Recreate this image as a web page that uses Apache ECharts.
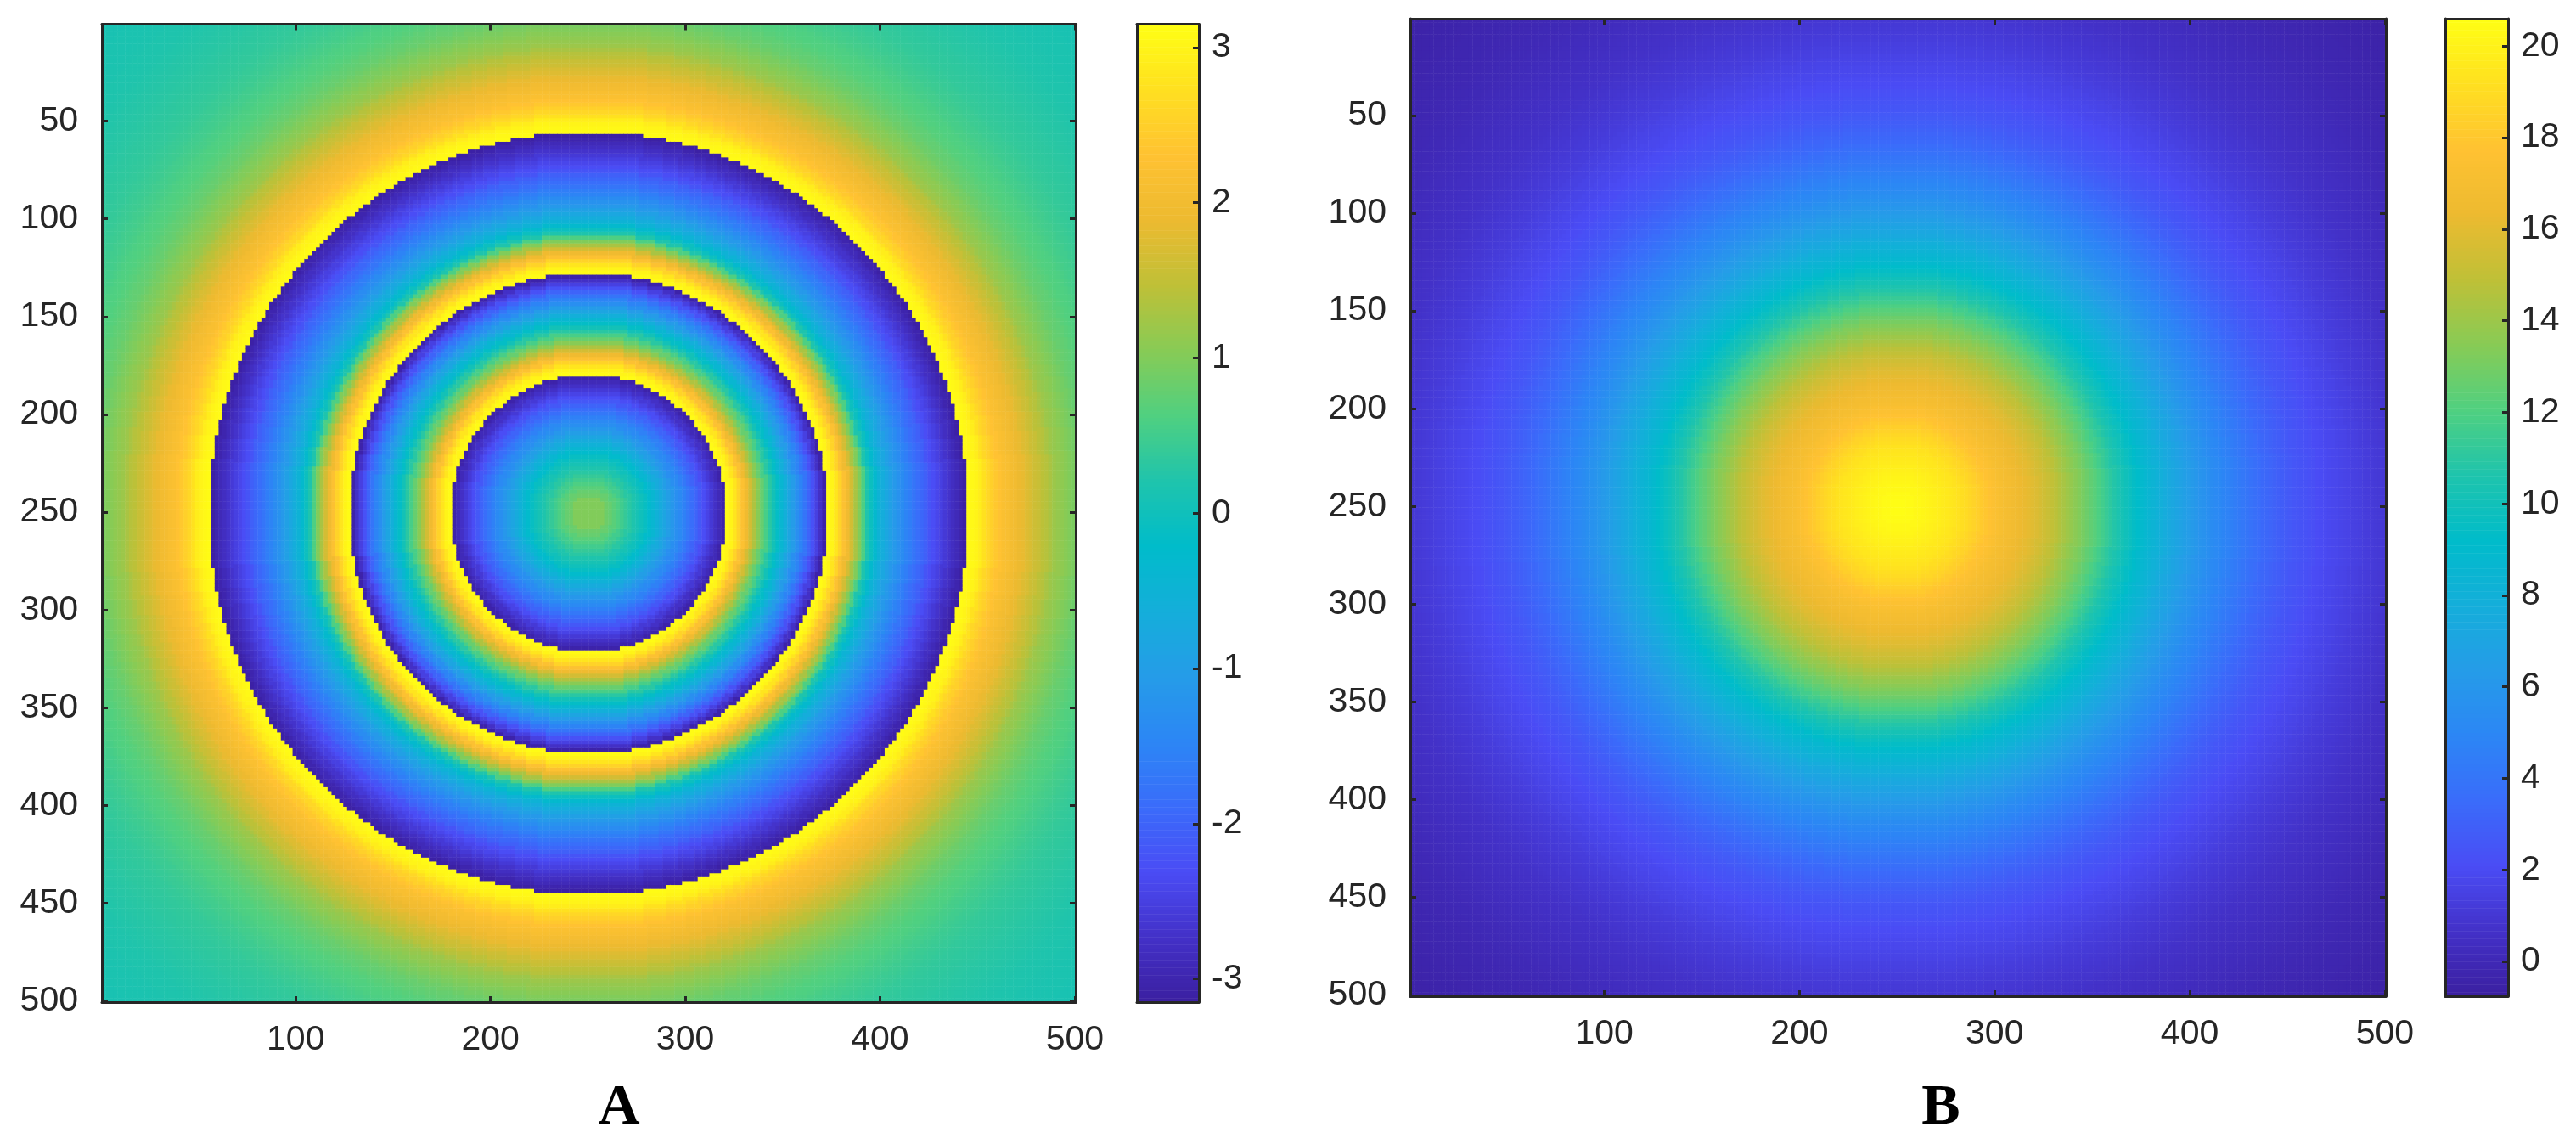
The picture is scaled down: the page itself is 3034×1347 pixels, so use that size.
<!DOCTYPE html>
<html>
<head>
<meta charset="utf-8">
<title>A B</title>
<script src="https://cdn.jsdelivr.net/npm/echarts@6/dist/echarts.min.js"></script>
<style>
html,body{margin:0;padding:0;background:#fff;}
#main{width:3034px;height:1347px;}
</style>
</head>
<body>
<div id="main"></div>
<script>
//************************* data ****************************************************//
// Both images are round, so each is kept as one radial profile: value read every
// 2 px of radius from the centre (0,2,4...354). The speckle of the original is not kept.
var phaseProfile = [
    1,1,1,1,1,0.85,0.8,0.7,0.6,0.5,
    0.4,0.3,0.2,0.1,0,-0.1,-0.25,-0.4,-0.55,-0.7,
    -0.85,-1,-1.15,-1.3,-1.4,-1.55,-1.7,-1.85,-2,-2.15,
    -2.3,-2.45,-2.6,-2.75,-2.9,-3.05,3.1,3,2.8,2.55,
    2.25,1.95,1.65,1.35,1.05,0.8,0.55,0.3,0.05,-0.15,
    -0.4,-0.6,-0.85,-1.05,-1.3,-1.5,-1.75,-2,-2.25,-2.5,
    -2.75,-3.05,3.1,3,2.8,2.55,2.25,1.95,1.65,1.3,
    1,0.6,0.2,-0.05,-0.3,-0.5,-0.65,-0.8,-0.95,-1.1,
    -1.25,-1.35,-1.5,-1.6,-1.75,-1.85,-1.95,-2.05,-2.2,-2.3,
    -2.4,-2.5,-2.6,-2.7,-2.8,-2.9,-3,-3.1,3.1,3.05,
    3,2.9,2.75,2.6,2.5,2.4,2.3,2.2,2.15,2.05,
    2,1.9,1.85,1.75,1.7,1.6,1.55,1.45,1.4,1.3,
    1.2,1.15,1.1,1.05,1,0.95,0.9,0.85,0.8,0.77,
    0.74,0.7,0.67,0.64,0.62,0.6,0.57,0.54,0.52,0.5,
    0.47,0.45,0.43,0.41,0.39,0.37,0.36,0.35,0.34,0.33,
    0.32,0.31,0.3,0.29,0.28,0.27,0.26,0.25,0.24,0.23,
    0.22,0.21,0.2,0.19,0.19,0.18,0.17,0.17,0.16,0.15,
    0.15,0.14,0.14,0.13,0.13,0.12,0.12,0.12
];
var amplitudeProfile = [
    20.5,20.5,20.5,20.4,20.4,20.3,20.3,20.2,20.1,20,
    19.9,19.8,19.7,19.6,19.5,19.4,19.25,19.1,18.95,18.75,
    18.55,18.35,18.15,17.95,17.75,17.55,17.35,17.15,17,16.85,
    16.7,16.55,16.4,16.25,16.1,15.95,15.8,15.6,15.4,15.2,
    15,14.8,14.55,14.3,14.05,13.8,13.55,13.3,13.05,12.8,
    12.5,12.25,11.95,11.65,11.35,11.05,10.75,10.5,10.2,9.95,
    9.7,9.45,9.2,8.95,8.7,8.5,8.3,8.05,7.85,7.6,
    7.4,7.2,7,6.8,6.6,6.4,6.2,6.05,5.85,5.7,
    5.5,5.35,5.2,5.05,4.9,4.75,4.6,4.45,4.3,4.15,
    4,3.85,3.7,3.55,3.4,3.3,3.2,3.05,2.95,2.85,
    2.75,2.65,2.55,2.5,2.4,2.35,2.25,2.2,2.1,2.05,
    2,1.9,1.85,1.8,1.7,1.65,1.6,1.5,1.45,1.4,
    1.3,1.25,1.2,1.15,1.1,1.05,1,0.95,0.9,0.85,
    0.8,0.75,0.7,0.67,0.63,0.6,0.55,0.52,0.48,0.45,
    0.4,0.37,0.33,0.3,0.27,0.23,0.2,0.17,0.13,0.1,
    0.07,0.04,0.01,-0.01,-0.04,-0.07,-0.09,-0.12,-0.14,-0.16,
    -0.18,-0.2,-0.22,-0.24,-0.26,-0.28,-0.3,-0.32,-0.34,-0.36,
    -0.38,-0.4,-0.42,-0.44,-0.46,-0.48,-0.5,-0.52
];
var xTicks = [100,200,300,400,500];
var yTicks = [50,100,150,200,250,300,350,400,450,500];
var phaseTicks = [-3,-2,-1,0,1,2,3];
var amplitudeTicks = [0,2,4,6,8,10,12,14,16,18,20];
var phaseRange = [-3.15,3.15];
var amplitudeRange = [-0.76,20.6];

// colormap, colours taken from the colorbar
var colormap = ['#3B1FA0','#4331C8','#4A4CF5','#3A6CFA','#2C86F5','#259CE8','#14AEDA','#00BCCA',
    '#1FC4AC','#50D080','#88CB55','#BFC037','#EDBA30','#FFC232','#FFE020','#FFFF14'];

//************************* build series data ******************************//
var CELL = 2;      // image cell size in px of the axis
var SIZE = 250;    // cells per side
var LEVELS = 256;  // steps in colorbar

function imageData(profile){
    var out = [];
    for(var i=0; i<SIZE; i++){
        for(var j=0; j<SIZE; j++){
            var dx = (i+0.5)*CELL-SIZE;
            var dy = (j+0.5)*CELL-SIZE;
            var k = Math.round(Math.sqrt(dx*dx+dy*dy)/CELL);
            out.push([i,j,profile[Math.min(k,profile.length-1)]]);
        }
    }
    return out;
}
function barData(range){
    var out = [];
    for(var i=0; i<LEVELS; i++){
        out.push([0,i,range[0]+(range[1]-range[0])*(i+0.5)/LEVELS]);
    }
    return out;
}
function indexList(n){
    var arr = [];
    for(var i=0; i<n; i++){ arr.push(i); }
    return arr;
}

//************************* axes helpers ******************************//
var LABEL_FONT = {color:'#262626',fontFamily:'"Liberation Sans"',fontSize:41};
var LINE = {color:'#262626',width:3};

// hidden axis for heatmap cells
function cellAxis(grid,n){
    return {type:'category',gridIndex:grid,show:false,data:indexList(n)};
}
// visible frame side, optional ticks and labels
function sideAxis(grid,pos,range,ticks,showLabel,margin,inverse){
    return {
        type:'value',gridIndex:grid,position:pos,min:range[0],max:range[1],inverse:!!inverse,z:10,
        axisLine:{show:true,onZero:false,lineStyle:LINE},
        splitLine:{show:false},
        axisTick:{show:!!ticks,inside:true,length:7,lineStyle:LINE,customValues:ticks||[]},
        axisLabel:Object.assign({show:!!showLabel,margin:margin||0,customValues:ticks||[]},LABEL_FONT)
    };
}

var pixelRange = [0.5,500.5];
var xAxes = [], yAxes = [];
var axisIdx = [];  // [xIndex,yIndex] of the cell axes per grid

function addImageAxes(grid){
    axisIdx[grid] = [xAxes.length,yAxes.length];
    xAxes.push(cellAxis(grid,SIZE));
    yAxes.push(cellAxis(grid,SIZE));
    xAxes.push(sideAxis(grid,'bottom',pixelRange,xTicks,true,24));
    xAxes.push(sideAxis(grid,'top',pixelRange,xTicks,false));
    yAxes.push(sideAxis(grid,'left',pixelRange,yTicks,true,28,true));
    yAxes.push(sideAxis(grid,'right',pixelRange,yTicks,false,0,true));
}
function addBarAxes(grid,range,ticks){
    axisIdx[grid] = [xAxes.length,yAxes.length];
    xAxes.push(cellAxis(grid,1));
    yAxes.push(cellAxis(grid,LEVELS));
    xAxes.push(sideAxis(grid,'bottom',[0,1]));
    xAxes.push(sideAxis(grid,'top',[0,1]));
    yAxes.push(sideAxis(grid,'left',range));
    yAxes.push(sideAxis(grid,'right',range,ticks,true,15));
}
addImageAxes(0);
addBarAxes(1,phaseRange,phaseTicks);
addImageAxes(2);
addBarAxes(3,amplitudeRange,amplitudeTicks);

function cellSeries(grid,data){
    return {
        type:'heatmap',
        xAxisIndex:axisIdx[grid][0],
        yAxisIndex:axisIdx[grid][1],
        data:data,
        silent:true,
        progressive:0,
        z:2,
        itemStyle:{borderWidth:0}
    };
}

//************************* chart ******************************//
var myChart = echarts.init(document.getElementById('main'),null,{renderer:'canvas'});
var option = {
    backgroundColor:'#fff',
    animation:false,
    title:[
        {text:'A',left:724,top:1266,textAlign:'center',textStyle:{fontFamily:'"Liberation Serif"',fontWeight:'bold',fontSize:68,color:'#000'}},
        {text:'B',left:2281,top:1266,textAlign:'center',textStyle:{fontFamily:'"Liberation Serif"',fontWeight:'bold',fontSize:68,color:'#000'}}
    ],
    grid:[
        {left:120,top:28.5,width:1147,height:1151.5},
        {left:1339,top:28.5,width:73,height:1151.5},
        {left:1661,top:22,width:1149,height:1151},
        {left:2880,top:22,width:74,height:1151}
    ],
    xAxis:xAxes,
    yAxis:yAxes,
    visualMap:[
        {type:'continuous',show:false,seriesIndex:[0,1],min:phaseRange[0],max:phaseRange[1],inRange:{color:colormap}},
        {type:'continuous',show:false,seriesIndex:[2,3],min:amplitudeRange[0],max:amplitudeRange[1],inRange:{color:colormap}}
    ],
    series:[
        cellSeries(0,imageData(phaseProfile)),
        cellSeries(1,barData(phaseRange)),
        cellSeries(2,imageData(amplitudeProfile)),
        cellSeries(3,barData(amplitudeRange))
    ]
};
myChart.setOption(option);
</script>
</body>
</html>
